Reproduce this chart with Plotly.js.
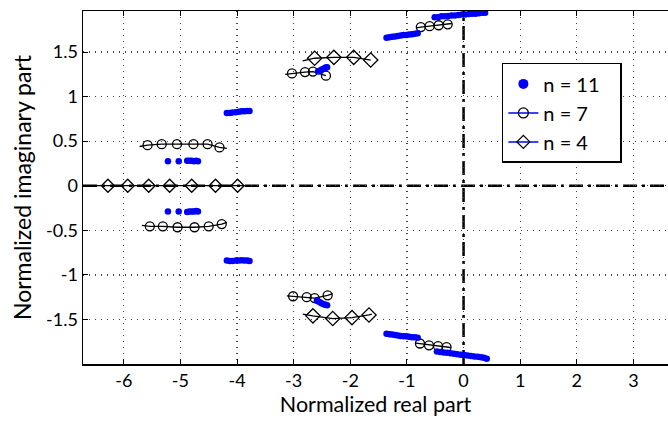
<!DOCTYPE html>
<html><head><meta charset="utf-8">
<script src="https://cdn.plot.ly/plotly-3.0.1.min.js"></script>
<style>html,body{margin:0;padding:0;background:#fff}</style>
</head><body>
<div id="chart" style="width:668px;height:421px"></div>
<script>
// ---- n = 11 (blue dots), upper and lower clusters ----
const n11_x = [
  -0.51,-0.45,-0.39,-0.33,-0.27,-0.21,-0.15,-0.09,-0.03,0.03,0.09,0.15,0.21,0.27,0.33,0.38,
  -1.36,-1.31,-1.26,-1.21,-1.16,-1.11,-1.06,-1.01,-0.96,-0.91,-0.86,-0.81,
  -2.57,-2.54,-2.51,-2.48,-2.45,-2.43,-2.41,
  -4.18,-4.13,-4.08,-4.02,-3.97,-3.92,-3.87,-3.82,-3.78,
  -5.22,-5.03,-4.88,-4.84,-4.80,-4.76,-4.72,-4.69,
  -0.47,-0.41,-0.35,-0.29,-0.23,-0.17,-0.11,-0.05,0.01,0.07,0.13,0.19,0.25,0.31,0.36,0.41,
  -1.36,-1.31,-1.26,-1.21,-1.16,-1.11,-1.06,-1.01,-0.96,-0.91,-0.86,-0.81,
  -2.59,-2.56,-2.53,-2.50,-2.47,-2.44,-2.41,
  -4.18,-4.13,-4.08,-4.02,-3.97,-3.92,-3.87,-3.82,-3.78,
  -5.22,-5.03,-4.88,-4.84,-4.80,-4.76,-4.72,-4.69
];
const n11_y = [
  1.89,1.89,1.90,1.90,1.905,1.91,1.91,1.915,1.92,1.92,1.925,1.93,1.93,1.935,1.94,1.94,
  1.66,1.665,1.67,1.675,1.68,1.685,1.69,1.69,1.695,1.70,1.705,1.71,
  1.28,1.29,1.30,1.31,1.32,1.325,1.33,
  0.815,0.815,0.82,0.825,0.83,0.835,0.835,0.837,0.837,
  0.275,0.275,0.28,0.28,0.28,0.275,0.28,0.275,
  -1.86,-1.865,-1.87,-1.875,-1.88,-1.885,-1.89,-1.895,-1.90,-1.905,-1.91,-1.915,-1.92,-1.925,-1.93,-1.94,
  -1.66,-1.665,-1.67,-1.675,-1.68,-1.685,-1.69,-1.69,-1.695,-1.70,-1.70,-1.705,
  -1.29,-1.30,-1.31,-1.32,-1.33,-1.335,-1.34,
  -0.84,-0.845,-0.845,-0.84,-0.84,-0.835,-0.84,-0.84,-0.845,
  -0.29,-0.29,-0.295,-0.29,-0.29,-0.29,-0.285,-0.29
];

// ---- n = 7 (open circles with black line), branches ----
const n7_up_left_x  = [-5.58,-5.33,-5.06,-4.77,-4.52,-4.31];
const n7_up_left_y  = [0.455,0.466,0.466,0.466,0.466,0.43];
const n7_up_left_lx = [-5.72,-5.58,-5.33,-5.06,-4.77,-4.52,-4.31,-4.18];
const n7_up_left_ly = [0.44,0.455,0.466,0.466,0.466,0.466,0.43,0.42];
const n7_lo_left_x  = [-5.54,-5.31,-5.05,-4.75,-4.50,-4.27];
const n7_lo_left_y  = [-0.455,-0.455,-0.466,-0.466,-0.455,-0.43];
const n7_lo_left_lx = [-5.68,-5.54,-5.31,-5.05,-4.75,-4.50,-4.27,-4.18];
const n7_lo_left_ly = [-0.445,-0.455,-0.455,-0.466,-0.466,-0.455,-0.43,-0.41];
const n7_up_mid_x   = [-3.03,-2.80,-2.66,-2.43];
const n7_up_mid_y   = [1.26,1.275,1.28,1.235];
const n7_up_mid_lx  = [-3.15,-3.03,-2.80,-2.66,-2.43];
const n7_up_mid_ly  = [1.25,1.26,1.275,1.28,1.235];
const n7_lo_mid_x   = [-3.01,-2.77,-2.63,-2.40];
const n7_lo_mid_y   = [-1.24,-1.25,-1.26,-1.23];
const n7_lo_mid_lx  = [-3.12,-3.01,-2.77,-2.63,-2.40,-2.31];
const n7_lo_mid_ly  = [-1.235,-1.24,-1.25,-1.26,-1.23,-1.21];
const n7_up_right_x = [-0.755,-0.60,-0.44,-0.28];
const n7_up_right_y = [1.78,1.79,1.80,1.81];
const n7_up_right_lx= [-0.83,-0.755,-0.60,-0.44,-0.28,-0.21];
const n7_up_right_ly= [1.77,1.78,1.79,1.80,1.81,1.82];
const n7_lo_right_x = [-0.77,-0.61,-0.45,-0.30];
const n7_lo_right_y = [-1.77,-1.79,-1.80,-1.81];
const n7_lo_right_lx= [-0.84,-0.77,-0.61,-0.45,-0.30,-0.23];
const n7_lo_right_ly= [-1.765,-1.77,-1.79,-1.80,-1.81,-1.815];

// ---- n = 4 (open diamonds with black line), branches ----
const n4_up_x  = [-2.63,-2.29,-1.94,-1.64];
const n4_up_y  = [1.43,1.44,1.44,1.41];
const n4_up_lx = [-2.84,-2.63,-2.29,-1.94,-1.64];
const n4_up_ly = [1.40,1.43,1.44,1.44,1.41];
const n4_real_x  = [-6.28,-5.93,-5.56,-5.19,-4.80,-4.38,-3.99];
const n4_real_y  = [0,0,0,0,0,0,0];
const n4_real_lx = [-6.80,-6.28,-5.93,-5.56,-5.19,-4.80,-4.38,-3.99,-3.85];
const n4_real_ly = [0,0,0,0,0,0,0,0,0];
const n4_lo_x  = [-2.66,-2.31,-1.97,-1.67];
const n4_lo_y  = [-1.46,-1.49,-1.48,-1.45];
const n4_lo_lx = [-2.84,-2.66,-2.31,-1.97,-1.67,-1.62];
const n4_lo_ly = [-1.44,-1.46,-1.49,-1.48,-1.45,-1.44];

// ---- ticks ----
const xTickVals = [-6,-5,-4,-3,-2,-1,0,1,2,3];
const xTickText = ["-6","-5","-4","-3","-2","-1","0","1","2","3"];
const yTickVals = [-1.5,-1,-0.5,0,0.5,1,1.5];
const yTickText = ["-1.5","-1","-0.5","0","0.5","1","1.5"];
const legendNames = ["n = 11","n = 7","n = 4"];

const FONT = "Lato, 'Open Sans', sans-serif";
const PADR = "\u00A0\u00A0\u00A0";
const traces = [];
function lineTrace(x,y){ traces.push({x:x,y:y,mode:'lines',type:'scatter',showlegend:false,hoverinfo:'skip',line:{color:'#000',width:1.3}}); }
function markTrace(x,y,sym,size){ traces.push({x:x,y:y,mode:'markers',type:'scatter',showlegend:false,hoverinfo:'skip',marker:{symbol:sym,size:size,color:'#000',line:{color:'#000',width:1.3}}}); }

lineTrace(n4_real_lx,n4_real_ly); markTrace(n4_real_x,n4_real_y,'diamond-open',10);
lineTrace(n4_up_lx,n4_up_ly); markTrace(n4_up_x,n4_up_y,'diamond-open',11);
lineTrace(n4_lo_lx,n4_lo_ly); markTrace(n4_lo_x,n4_lo_y,'diamond-open',11);
lineTrace(n7_up_left_lx,n7_up_left_ly); markTrace(n7_up_left_x,n7_up_left_y,'circle-open',9);
lineTrace(n7_lo_left_lx,n7_lo_left_ly); markTrace(n7_lo_left_x,n7_lo_left_y,'circle-open',9);
lineTrace(n7_up_mid_lx,n7_up_mid_ly); markTrace(n7_up_mid_x,n7_up_mid_y,'circle-open',9);
lineTrace(n7_lo_mid_lx,n7_lo_mid_ly); markTrace(n7_lo_mid_x,n7_lo_mid_y,'circle-open',9);
lineTrace(n7_up_right_lx,n7_up_right_ly); markTrace(n7_up_right_x,n7_up_right_y,'circle-open',9);
lineTrace(n7_lo_right_lx,n7_lo_right_ly); markTrace(n7_lo_right_x,n7_lo_right_y,'circle-open',9);
traces.push({x:n11_x,y:n11_y,mode:'markers',type:'scatter',showlegend:false,hoverinfo:'skip',marker:{color:'#0000ff',size:6.5}});

// legend entries
traces.push({x:[null],y:[null],name:legendNames[0]+PADR,mode:'markers',type:'scatter',showlegend:true,marker:{color:'#0000ff',size:10}});
traces.push({x:[null],y:[null],name:legendNames[1]+PADR,mode:'lines+markers',type:'scatter',showlegend:true,line:{color:'#0000ff',width:1.5},marker:{symbol:'circle-open',size:10,color:'#000',line:{color:'#000',width:1.3}}});
traces.push({x:[null],y:[null],name:legendNames[2]+PADR,mode:'lines+markers',type:'scatter',showlegend:true,line:{color:'#0000ff',width:1.5},marker:{symbol:'diamond-open',size:10,color:'#000',line:{color:'#000',width:1.3}}});

const layout = {
  width:668, height:421,
  margin:{l:83,r:0,t:11,b:57},
  paper_bgcolor:'#fff', plot_bgcolor:'#fff',
  font:{family:FONT,color:'#000',size:18},
  showlegend:true,
  xaxis:{
    range:[-6.72,3.61], tickvals:xTickVals, ticktext:xTickText,
    ticks:'inside', ticklen:5, tickcolor:'#000', tickwidth:1,
    showline:true, linecolor:'#000', linewidth:1.5, mirror:'ticks',
    showgrid:true, gridcolor:'#444', griddash:'1px,5px', gridwidth:1.3,
    zeroline:false, tickfont:{size:18,family:FONT},
    title:{text:'Normalized real part', font:{size:21.5,family:FONT}, standoff:6}
  },
  yaxis:{
    range:[-2.0,1.96], tickvals:yTickVals, ticktext:yTickText,
    ticks:'inside', ticklen:5, tickcolor:'#000', tickwidth:1,
    showline:true, linecolor:'#000', linewidth:1.5,
    showgrid:true, gridcolor:'#444', griddash:'1px,5px', gridwidth:1.3,
    zeroline:false, tickfont:{size:18,family:FONT},
    title:{text:'Normalized imaginary part', font:{size:23,family:FONT}, standoff:8}
  },
  legend:{
    x:0.716, y:0.853, xanchor:'left', yanchor:'top',
    bgcolor:'#fff', bordercolor:'#000', borderwidth:1.5,
    font:{size:20,family:FONT}, tracegroupgap:0
  },
  shapes:[
    {type:'line',xref:'x',yref:'paper',x0:0,x1:0,y0:0,y1:1,layer:'below',line:{color:'#000',width:2.5,dash:'14px,5px,3px,5px'}},
    {type:'line',xref:'paper',yref:'y',x0:0,x1:1,y0:0,y1:0,layer:'below',line:{color:'#000',width:2.5,dash:'14px,5px,3px,5px'}}
  ]
};
Plotly.newPlot('chart', traces, layout, {staticPlot:true, displayModeBar:false});
</script>
</body></html>
